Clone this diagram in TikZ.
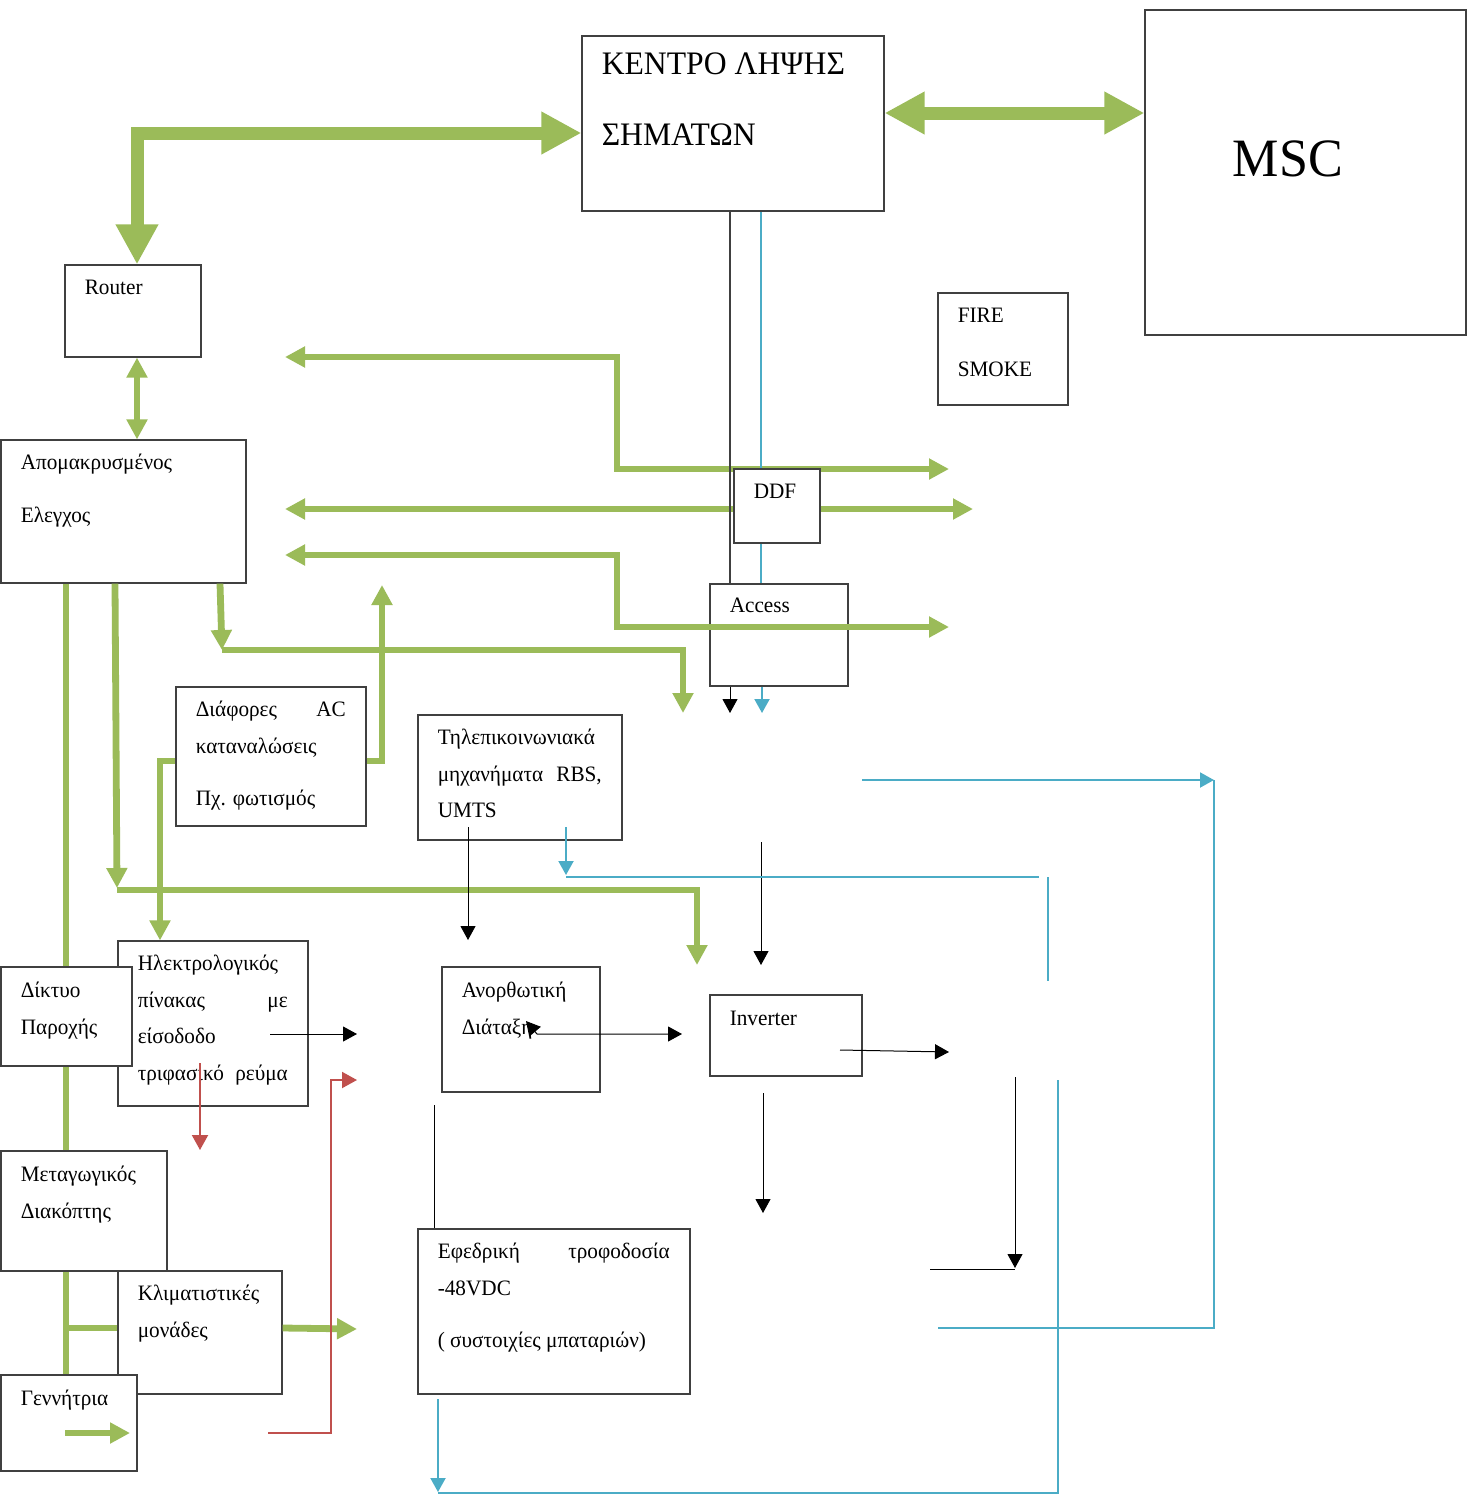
\documentclass[tikz,border=0pt]{standalone}
\usepackage{fontspec}
\setmainfont{Liberation Serif}[FakeStretch=0.965]
\usetikzlibrary{arrows.meta,backgrounds}

\definecolor{grn}{HTML}{9BBB59}
\definecolor{blu}{HTML}{4BACC6}
\definecolor{rd}{HTML}{C0504D}

\newcommand{\bodyfont}{\fontsize{11}{18.35}\selectfont}
\newcommand{\boxlines}[2]{\parbox[t]{#1}{\raggedright #2}}

\tikzset{
  box/.style={draw=black!75, line width=0.6pt, fill=white, inner sep=0pt},
  lbl/.style={anchor=base west, inner sep=0pt, font=\bodyfont},
  gbig/.style={draw=grn, line width=6.5pt, >={Triangle[length=20pt,width=20pt]}},
  gline/.style={draw=grn, line width=3.4pt, >={Triangle[length=10pt,width=10pt]}},
  kline/.style={draw=black, line width=0.5pt, >={Triangle[length=7pt,width=7.5pt]}},
  bline/.style={draw=blu, line width=1pt, >={Triangle[length=7pt,width=7.5pt]}},
  rline/.style={draw=rd, line width=1pt, >={Triangle[length=7.5pt,width=8pt]}},
}

\begin{document}
\begin{tikzpicture}[x=0.5pt, y=-0.5pt]
\useasboundingbox (0,0) rectangle (1474,1495);

% Κουτιά
\node[box, minimum width=151pt, minimum height=87.5pt] (kentro) at (733,123.5) {};
\node[box, minimum width=160.5pt, minimum height=162.5pt] (msc) at (1305.5,172.5) {};
\node[box, minimum width=68pt, minimum height=46pt] (router) at (133,311) {};
\node[box, minimum width=65pt, minimum height=56pt] (fire) at (1003,349) {};
\node[box, minimum width=122.5pt, minimum height=71.5pt] (apom) at (123.5,511.5) {};
\node[box, minimum width=69pt, minimum height=51pt] (access) at (779,635) {};
\node[box, minimum width=43pt, minimum height=37pt] (ddf) at (777,506) {};
\node[box, minimum width=95pt, minimum height=69.5pt] (diaf) at (271,756.5) {};
\node[box, minimum width=102pt, minimum height=62.5pt] (tilep) at (520,777.5) {};
\node[box, minimum width=95pt, minimum height=82.5pt] (ilek) at (213,1023.5) {};
\node[box, minimum width=65.5pt, minimum height=49.5pt] (dikt) at (66.5,1016.5) {};
\node[box, minimum width=79pt, minimum height=62.5pt] (anor) at (521,1029.5) {};
\node[box, minimum width=76pt, minimum height=40.5pt] (inv) at (786,1035.5) {};
\node[box, minimum width=83pt, minimum height=60pt] (metag) at (84,1211) {};
\node[box, minimum width=82pt, minimum height=61.5pt] (klim) at (200,1332.5) {};
\node[box, minimum width=68pt, minimum height=48pt] (gen) at (69,1423) {};
\node[box, minimum width=136pt, minimum height=82.5pt] (efed) at (554,1311.5) {};

% Κείμενα
\node[lbl, font=\fontsize{16.4}{35.5}\selectfont] (kentrotxt) at ([shift={(20,39)}]kentro.north west) {\boxlines{140pt}{ΚΕΝΤΡΟ ΛΗΨΗΣ\\ΣΗΜΑΤΩΝ}};
\node[lbl, font=\fontsize{27}{30}\selectfont] (msctxt) at ([shift={(88,167)}]msc.north west) {MSC};
\node[lbl] (routertxt) at ([shift={(20,30)}]router.north west) {Router};
\node[lbl] (firetxt) at ([shift={(20,30)}]fire.north west) {\boxlines{50pt}{FIRE\\[8.5pt]SMOKE}};
\node[lbl] (apomtxt) at ([shift={(20,30)}]apom.north west) {\boxlines{100pt}{Απομακρυσμένος\\[8pt]Ελεγχος}};
\node[lbl] (ddftxt) at ([shift={(20,30)}]ddf.north west) {DDF};
\node[lbl] (accesstxt) at ([shift={(20,29)}]access.north west) {Access};
\node[lbl] (diaftxt) at ([shift={(20,30)}]diaf.north west) {\boxlines{75pt}{Διάφορες\hfill AC\\καταναλώσεις\\[8pt]Πχ. φωτισμός}};
\node[lbl] (tileptxt) at ([shift={(20,30)}]tilep.north west) {\boxlines{82pt}{Τηλεπικοινωνιακά\\μηχανήματα\hfill RBS,\\UMTS}};
\node[lbl] (ilektxt) at ([shift={(20,30)}]ilek.north west) {\boxlines{75pt}{Ηλεκτρολογικός\\πίνακας\hfill με\\είσοδοδο\\τριφασικό\hfill ρεύμα}};
\node[lbl] (dikttxt) at ([shift={(20,31)}]dikt.north west) {\boxlines{50pt}{Δίκτυο\\Παροχής}};
\node[lbl] (anortxt) at ([shift={(20,31)}]anor.north west) {\boxlines{60pt}{Ανορθωτική\\Διάταξη}};
\node[lbl] (invtxt) at ([shift={(20,31)}]inv.north west) {Inverter};
\node[lbl] (metagtxt) at ([shift={(20,31)}]metag.north west) {\boxlines{65pt}{Μεταγωγικός\\Διακόπτης}};
\node[lbl] (klimtxt) at ([shift={(20,30)}]klim.north west) {\boxlines{65pt}{Κλιματιστικές\\μονάδες}};
\node[lbl] (gentxt) at ([shift={(20,31)}]gen.north west) {Γεννήτρια};
\node[lbl] (efedtxt) at ([shift={(20,30)}]efed.north west) {\boxlines{116pt}{Εφεδρική\hfill τροφοδοσία\\-48VDC\\[8pt]( συστοιχίες μπαταριών)}};

% Γραμμές κάτω από τα κουτιά
\begin{scope}[on background layer]
  \draw[gline] (66,0 |- apom.south) -- (66,0 |- gen.north);
  \draw[gline] (66,1328) -- (klim.west |- 0,1328);
  \draw[gline,<->] (285,357) -| (617,469) -- (949,469);
  \draw[gline,<->] (285,509) -- (973,509);
  \draw[bline] (761,0 |- kentro.south) -- (761,0 |- access.north);
\end{scope}

% Πράσινα βέλη
\draw[gbig,<->] (137,0 |- router.north) |- (kentro.west |- 0,133);
\draw[gbig,<->] (kentro.east |- 0,113) -- (msc.west |- 0,113);
\draw[gline,<->] (137,0 |- router.south) -- (137,0 |- apom.north);
\draw[gline,<->] (285,555) -| (617,627) -- (949,627);
\draw[gline,->] (220,0 |- apom.south) -- (222,650);
\draw[gline,->] (222,650) -| (683,713);
\draw[gline,->] (diaf.east |- 0,761) -| (382,585);
\draw[gline,->] (diaf.west |- 0,761) -| (160,0 |- ilek.north);
\draw[gline,->] (115,0 |- apom.south) -- (117,888);
\draw[gline,->] (117,890) -| (697,965);
\draw[gline,->] (klim.east |- 0,1328) -- (357,1329);
\draw[gline,->] (65,1433) -- (130,1433);

% Μαύρα βέλη
\draw[kline, draw=black!75, line width=0.6pt] (730,0 |- kentro.south) -- (730,0 |- access.north);
\draw[kline,->] (730,0 |- access.south) -- (730,713);
\draw[kline,->] (468,827) -- (468,940);
\draw[kline,->] (270,1034) -- (357,1034);
\draw[kline,<->] (526,1021) -- (537,1034) -- (682,1034);
\draw[kline,->] (840,1050) -- (949,1052);
\draw[kline,->] (761,842) -- (761,965);
\draw[kline,->] (763,1093) -- (763,1213);
\draw[kline,->] (1015,1077) -- (1015,1268);
\draw[kline] (930,1269) -- (1015,1269);
\draw[kline] (434,1105) -- (434,0 |- efed.north);

% Μπλε βέλη
\draw[bline,->] (762,0 |- access.south) -- (762,713);
\draw[bline,->] (566,827) -- (566,875);
\draw[bline] (566,877) -- (1039,877);
\draw[bline] (1048,877) -- (1048,981);
\draw[bline,->] (862,780) -- (1214,780);
\draw[bline] (1214,780) |- (938,1328);
\draw[bline,->] (438,1399) -- (438,1492);
\draw[bline] (438,1493) -| (1058,1080);

% Κόκκινα βέλη
\draw[rline,->] (200,1063) -- (200,1150);
\draw[rline,->] (268,1433) -| (331,1080) -- (357,1080);
\end{tikzpicture}
\end{document}
